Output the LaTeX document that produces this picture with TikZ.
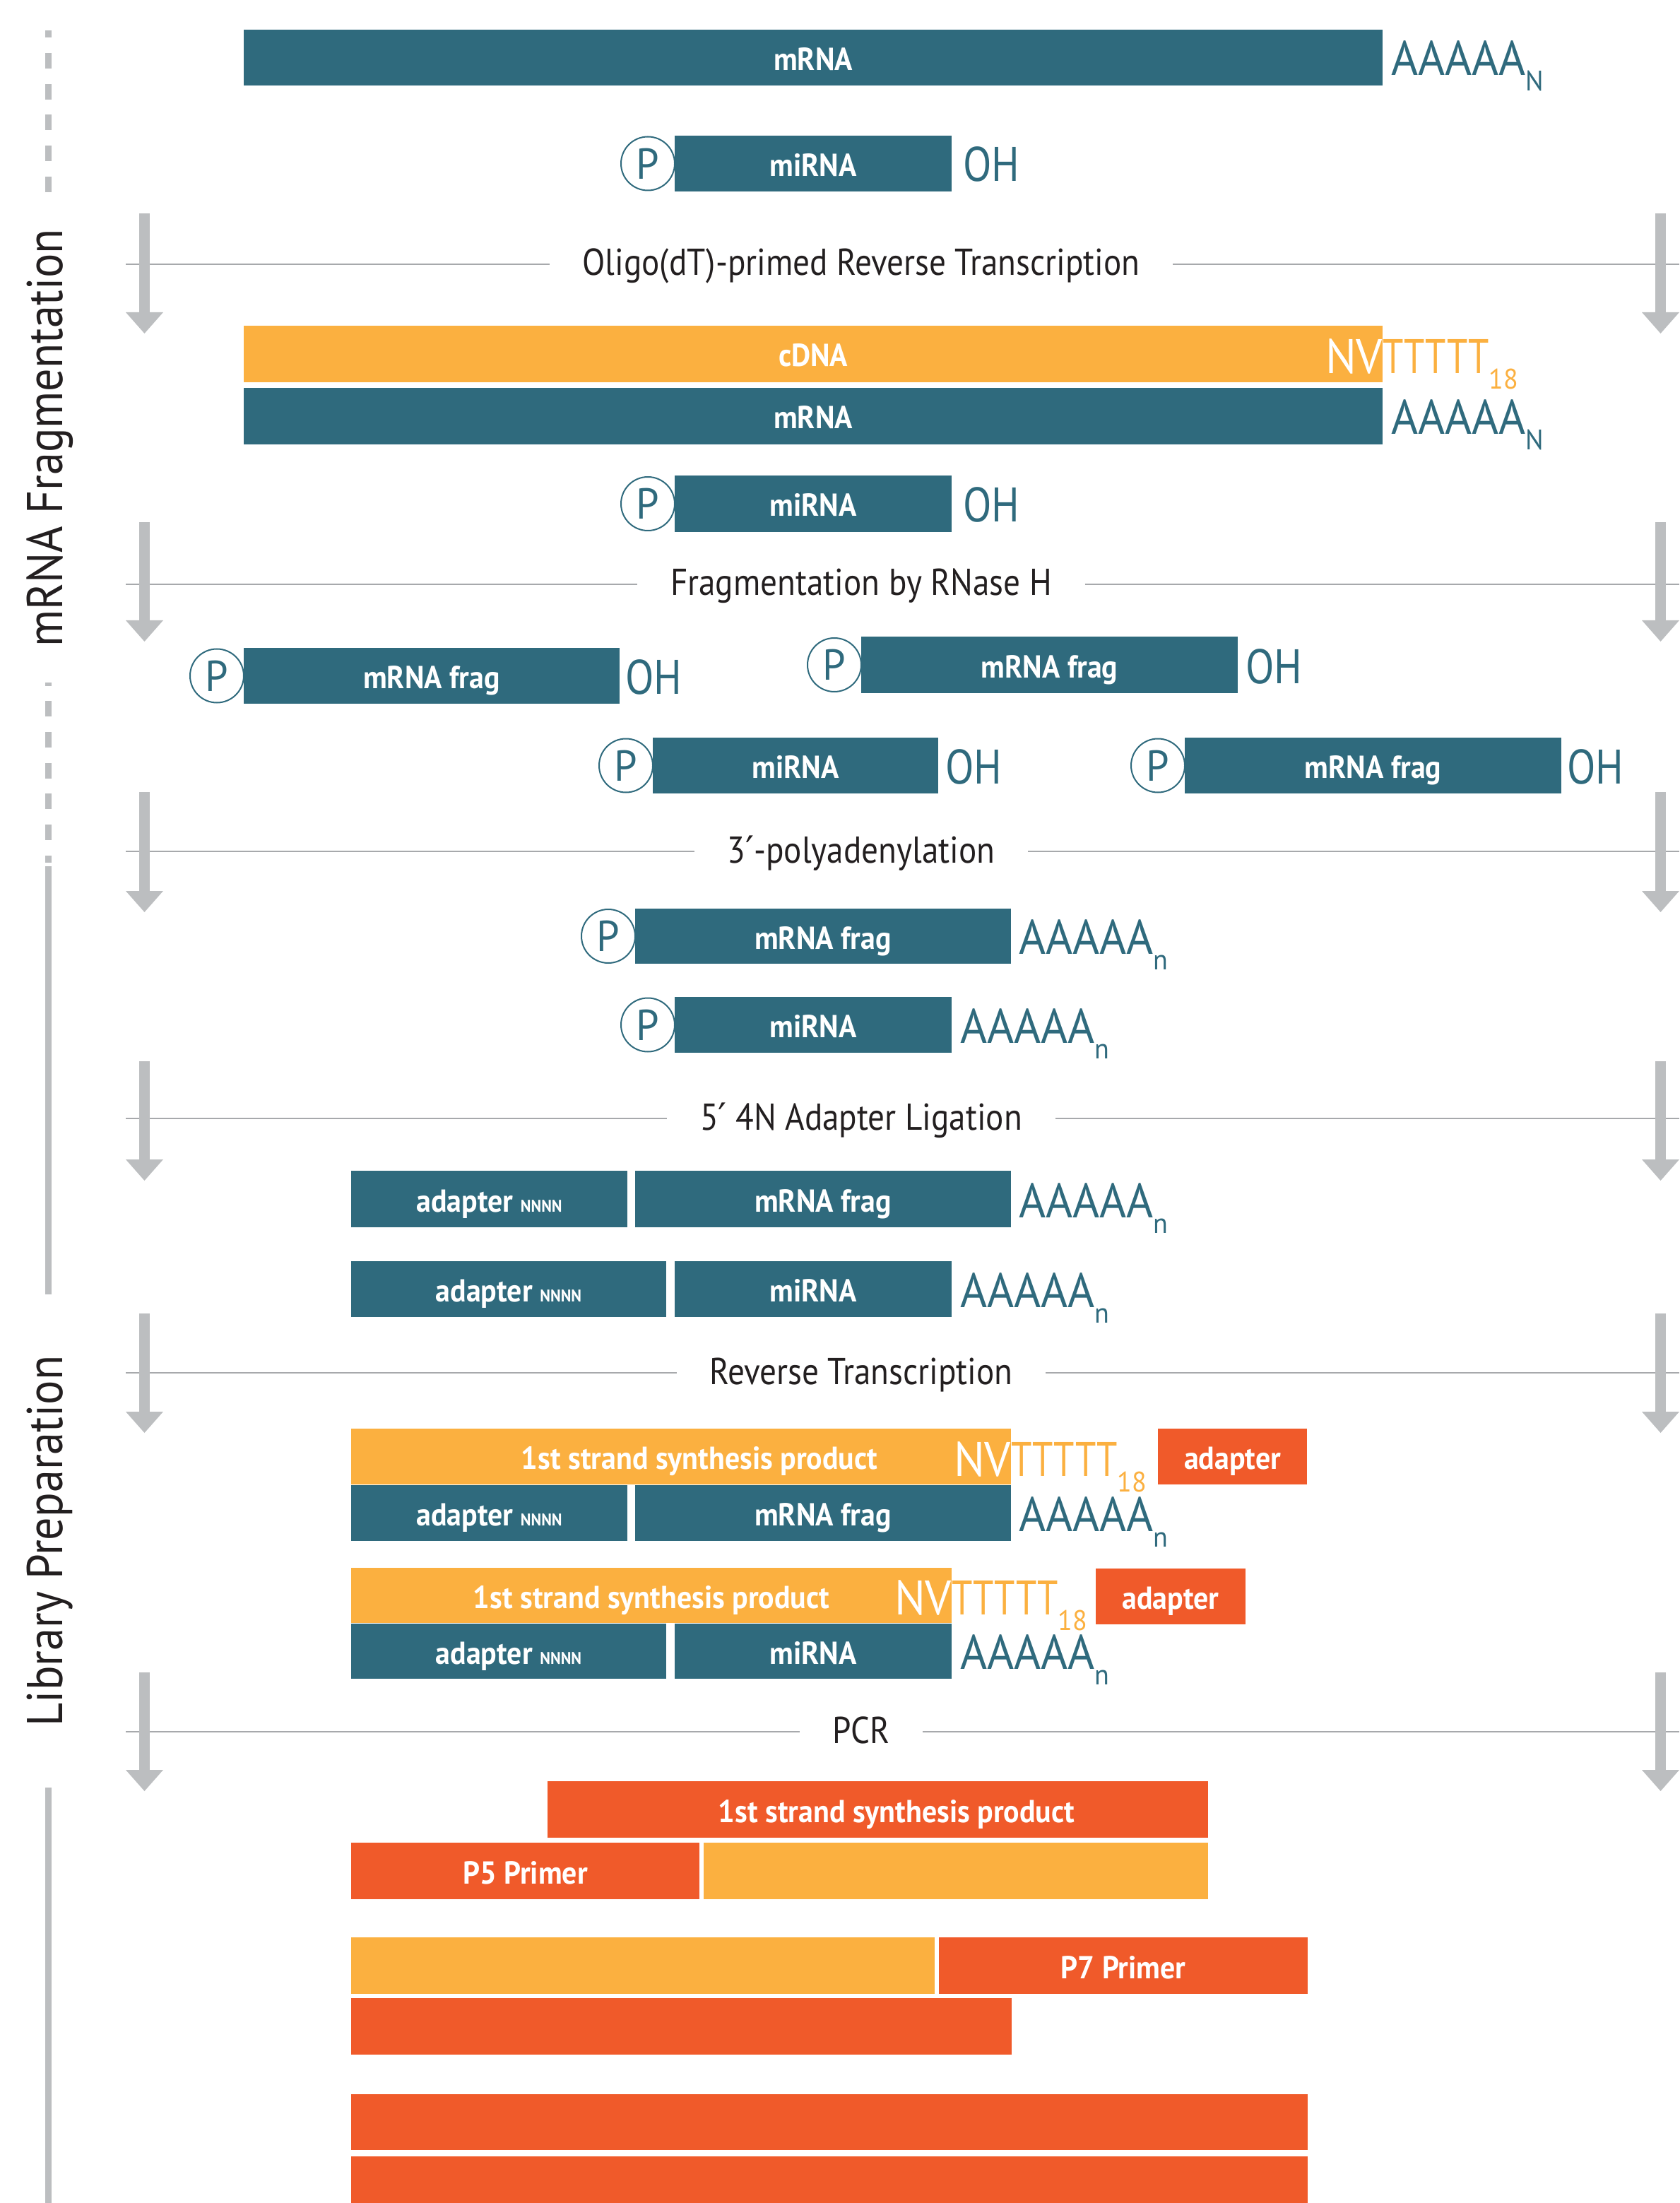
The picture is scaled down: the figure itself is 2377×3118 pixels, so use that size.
\documentclass[tikz,border=0pt]{standalone}
\usepackage{fontspec}
\usetikzlibrary{calc}
\setmainfont{PT Sans}
\newfontfamily\cnd{PT Sans}[FakeStretch=0.89]
\newfontfamily\bld{PT Sans}[FakeStretch=0.93]
\newfontfamily\tailf{PT Sans}[FakeStretch=0.95]
\newfontfamily\ohf{PT Sans}[FakeStretch=0.86]
\newfontfamily\tf{PT Sans}[FakeStretch=0.77]
\newfontfamily\sidef{PT Sans}[FakeStretch=0.9]
\newfontfamily\djv{DejaVu Sans}
\newcommand\prm{{\djv ′}}
\definecolor{tealC}{RGB}{47,106,125}
\definecolor{orC}{RGB}{251,176,64}
\definecolor{redC}{RGB}{240,90,42}
\definecolor{grayA}{RGB}{188,190,192}
\definecolor{lineC}{RGB}{167,169,172}
\definecolor{txtC}{RGB}{35,31,32}
\tikzset{
  every node/.style={inner sep=0pt, outer sep=0pt},
  box/.style={draw=none, text=white, font=\bld\bfseries\fontsize{13.5}{13.5}\selectfont, text height=10.8pt, text depth=0pt},
  tealbox/.style={box, fill=tealC},
  orbox/.style={box, fill=orC},
  redbox/.style={box, fill=redC},
  pcirc/.style={circle, draw=tealC, line width=0.6pt, minimum size=22.8pt, text=tealC, font=\tailf\fontsize{18.4}{18.4}\selectfont},
  tailtext/.style={text=tealC, font=\tailf\fontsize{20.6}{20.6}\selectfont},
  ohtext/.style={text=tealC, font=\ohf\fontsize{20.6}{20.6}\selectfont},
  nvwhite/.style={text=white, font=\tailf\fontsize{20.6}{20.6}\selectfont},
  nvor/.style={text=orC, font=\tf\fontsize{20.6}{20.6}\selectfont},
  steplabel/.style={text=txtC, font=\cnd\fontsize{15.9}{15.9}\selectfont, inner xsep=14pt, anchor=base},
  hline/.style={draw=lineC, line width=0.7pt},
  sidelabel/.style={text=txtC, font=\sidef\fontsize{21.4}{21.4}\selectfont, rotate=90, anchor=base},
}
\newcommand\BX[7]{\node[#6, minimum width={(#4-#2)*0.3pt}, minimum height={(#5-#3)*0.3pt}, anchor=north west] (#1) at (#2,#3) {#7};}
\newcommand\subs[1]{\raisebox{-6.6pt}{\tailf\fontsize{12}{12}\selectfont #1}}
\newcommand\tailA[4]{\node[tailtext, anchor=base west] (#1) at ($(#2.south east)+(#3,-14)$) {AAAAA\subs{#4}};}
\newcommand\tailOH[3]{\node[ohtext, anchor=base west] (#1) at ($(#2.south east)+(#3,-14)$) {OH};}
\newcommand\pc[2]{\node[pcirc, anchor=east] (#1) at (#2.west) {P};}
\newcommand\nvt[2]{%
  \node[nvwhite, anchor=base east] (#1nv) at ($(#2.south east)+(0,-12)$) {NV};
  \node[nvor, anchor=base west] (#1tt) at ($(#2.south east)+(0,-12)$) {TTTTT\subs{18}};}
\newcommand\nn{{\fontsize{7.2}{7.2}\selectfont NNNN}}
\newcommand\stepx[5]{%
  \node[steplabel] (#1) at (1219,#2+16) {#5};
  \coordinate (#1l) at (178,#2);
  \coordinate (#1r) at (2377,#2);
  \draw[hline] (#1l) -- (#1.west |- #1l);
  \draw[hline] (#1.east |- #1r) -- (#1r);
  \foreach \ax in {204.5,2350.5}{
    \fill[grayA] (\ax-7.5,#3) rectangle (\ax+7.5,#4-29);
    \fill[grayA] (\ax-26.5,#4-30) -- (\ax+26.5,#4-30) -- (\ax,#4) -- cycle;}
}
\begin{document}
\begin{tikzpicture}[x=0.3pt,y=-0.3pt]
\useasboundingbox (0,0) rectangle (2377,3118);
% left side rule
\fill[grayA] (64,43) rectangle (73,53);
\foreach \k in {0,...,4}{\fill[grayA] (64,75+43.7*\k) rectangle (73,97+43.7*\k);}
\fill[grayA] (64,966) rectangle (73,971);
\foreach \k in {0,...,4}{\fill[grayA] (64,992+43.8*\k) rectangle (73,1014+43.8*\k);}
\fill[grayA] (64,1211) rectangle (73,1221);
\fill[grayA] (64,1226) rectangle (73,1832);
\fill[grayA] (64,2530) rectangle (73,3118);
\node[sidelabel] (sideA) at (88,620) {mRNA Fragmentation};
\node[sidelabel] (sideB) at (88,2181) {Library Preparation};

% steps
\stepx{s1}{374}{302}{472}{Oligo(dT)-primed Reverse Transcription}
\stepx{s2}{827}{739}{908}{Fragmentation by RNase H}
\stepx{s3}{1205}{1121}{1291}{3\prm-polyadenylation}
\stepx{s4}{1583}{1502}{1671}{5\prm\ 4N Adapter Ligation}
\stepx{s5}{1943}{1859}{2028}{Reverse Transcription}
\stepx{s6}{2451}{2367}{2535}{PCR}

% row A,B
\BX{mA}{345}{42}{1957}{121}{tealbox}{mRNA}
\tailA{tA}{mA}{12}{N}
\BX{miB}{955}{192}{1347}{271}{tealbox}{miRNA}
\pc{pB}{miB}
\tailOH{ohB}{miB}{16}
% row C,D,E
\BX{cD}{345}{461}{1957}{541}{orbox}{cDNA}
\nvt{nvC}{cD}
\BX{mD}{345}{549}{1957}{629}{tealbox}{mRNA}
\tailA{tD}{mD}{12}{N}
\BX{miE}{955}{673}{1347}{753}{tealbox}{miRNA}
\pc{pE}{miE}
\tailOH{ohE}{miE}{16}
% row F
\BX{f1}{345}{917}{877}{996}{tealbox}{mRNA frag}
\pc{pf1}{f1}
\tailOH{ohf1}{f1}{8}
\BX{f2}{1219}{901}{1752}{981}{tealbox}{mRNA frag}
\pc{pf2}{f2}
\tailOH{ohf2}{f2}{11}
\BX{miF}{924}{1044}{1328}{1123}{tealbox}{miRNA}
\pc{pmiF}{miF}
\tailOH{ohmiF}{miF}{10}
\BX{f3}{1677}{1044}{2210}{1123}{tealbox}{mRNA frag}
\pc{pf3}{f3}
\tailOH{ohf3}{f3}{8}
% row G
\BX{fG}{899}{1286}{1431}{1364}{tealbox}{mRNA frag}
\pc{pfG}{fG}
\tailA{tfG}{fG}{11}{n}
\BX{miG}{955}{1411}{1347}{1490}{tealbox}{miRNA}
\pc{pmiG}{miG}
\tailA{tmiG}{miG}{12}{n}
% row H
\BX{aH1}{497}{1657}{888}{1737}{tealbox}{adapter \nn}
\BX{fH}{899}{1657}{1431}{1737}{tealbox}{mRNA frag}
\tailA{tfH}{fH}{11}{n}
\BX{aH2}{497}{1785}{943}{1864}{tealbox}{adapter \nn}
\BX{miH}{955}{1785}{1347}{1864}{tealbox}{miRNA}
\tailA{tmiH}{miH}{12}{n}
% row I
\BX{sI1}{497}{2022}{1431}{2101}{orbox}{}
\node[box] (sI1t) at (990,2061.5) {1st strand synthesis product};
\nvt{nvI1}{sI1}
\BX{adI1}{1639}{2022}{1850}{2101}{redbox}{adapter}
\BX{aI1}{497}{2102}{888}{2181}{tealbox}{adapter \nn}
\BX{fI}{899}{2102}{1431}{2181}{tealbox}{mRNA frag}
\tailA{tfI}{fI}{11}{n}
\BX{sI2}{497}{2219}{1347}{2297}{orbox}{1st strand synthesis product}
\nvt{nvI2}{sI2}
\BX{adI2}{1551}{2220}{1763}{2299}{redbox}{adapter}
\BX{aI2}{497}{2298}{943}{2376}{tealbox}{adapter \nn}
\BX{miI}{955}{2298}{1347}{2376}{tealbox}{miRNA}
\tailA{tmiI}{miI}{12}{n}
% row J
\BX{sJ}{775}{2521}{1710}{2601}{redbox}{}
\node[box] (sJt) at (1269,2561) {1st strand synthesis product};
\BX{p5}{497}{2608}{990}{2688}{redbox}{P5 Primer}
\BX{oJ1}{996}{2608}{1710}{2688}{orbox}{}
\BX{oJ2}{497}{2742}{1323}{2822}{orbox}{}
\BX{p7}{1329}{2742}{1851}{2822}{redbox}{P7 Primer}
\BX{rJ3}{497}{2828}{1432}{2908}{redbox}{}
\BX{rJ4}{497}{2964}{1851}{3043}{redbox}{}
\BX{rJ5}{497}{3052}{1851}{3118}{redbox}{}
\end{tikzpicture}
\end{document}
